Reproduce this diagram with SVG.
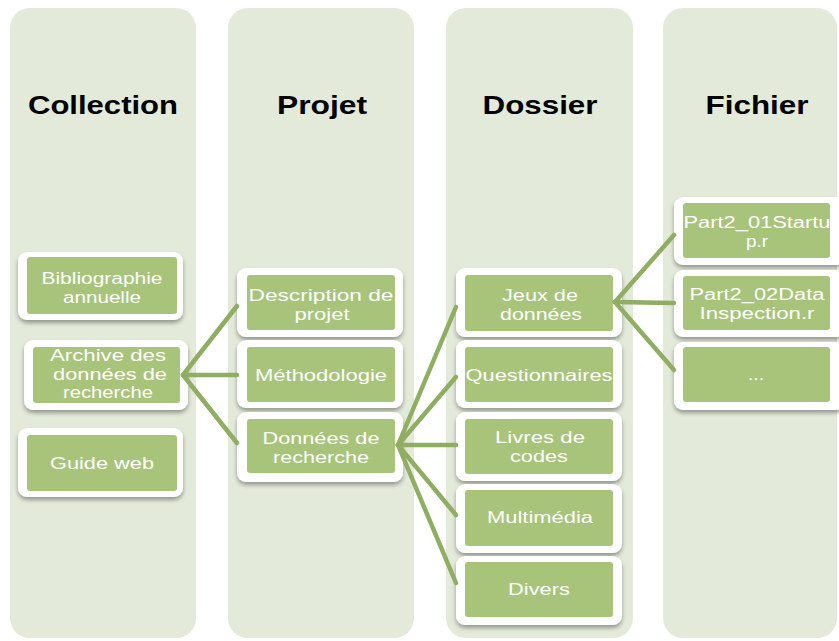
<svg xmlns="http://www.w3.org/2000/svg" width="839" height="641" viewBox="0 0 839 641">
<defs>
<filter id="sh" x="-10%" y="-10%" width="125%" height="135%">
<feGaussianBlur in="SourceAlpha" stdDeviation="2"/>
<feOffset dx="0" dy="3" result="b"/>
<feComponentTransfer><feFuncA type="linear" slope="0.35"/></feComponentTransfer>
<feMerge><feMergeNode/><feMergeNode in="SourceGraphic"/></feMerge>
</filter>
</defs>
<style>
.col{fill:#e3eada;}
.hd{font-family:"Liberation Sans",Arial,sans-serif;font-weight:bold;font-size:26px;fill:#000;text-anchor:middle;}
.outer{fill:#ffffff;filter:url(#sh);}
.inner{fill:#a8c47b;}
.t{font-family:"Liberation Sans",Arial,sans-serif;font-size:16px;fill:#ffffff;text-anchor:middle;}
.ln{stroke:#8fae63;stroke-width:4.5;fill:none;stroke-linecap:round;}
</style>
<rect width="839" height="641" fill="#ffffff"/>
<g id="columns">
<rect class="col" x="10" y="8" width="186" height="630" rx="20"/>
<rect class="col" x="228" y="8" width="186" height="630" rx="20"/>
<rect class="col" x="446" y="8" width="187" height="630" rx="20"/>
<rect class="col" x="663" y="8" width="174" height="630" rx="20"/>
<text class="hd" x="103" y="114" textLength="150" lengthAdjust="spacingAndGlyphs">Collection</text>
<text class="hd" x="322" y="114" textLength="90" lengthAdjust="spacingAndGlyphs">Projet</text>
<text class="hd" x="540" y="114" textLength="115" lengthAdjust="spacingAndGlyphs">Dossier</text>
<text class="hd" x="757" y="114" textLength="103" lengthAdjust="spacingAndGlyphs">Fichier</text>
</g>
<g id="n-biblio">
<rect class="outer" x="18" y="252" width="165" height="68" rx="9"/>
<rect class="inner" x="27" y="257" width="150" height="57" rx="3"/>
<text class="t" x="102" y="284" textLength="121" lengthAdjust="spacingAndGlyphs">Bibliographie</text>
<text class="t" x="102" y="302.5" textLength="78" lengthAdjust="spacingAndGlyphs">annuelle</text>
</g>
<g id="n-archive">
<rect class="outer" x="24" y="340" width="164" height="70" rx="9"/>
<rect class="inner" x="33" y="347" width="147" height="56" rx="3"/>
<text class="t" x="108" y="361" textLength="116" lengthAdjust="spacingAndGlyphs">Archive des</text>
<text class="t" x="110" y="379.5" textLength="114" lengthAdjust="spacingAndGlyphs">données de</text>
<text class="t" x="108" y="398" textLength="90" lengthAdjust="spacingAndGlyphs">recherche</text>
</g>
<g id="n-guide">
<rect class="outer" x="18" y="428" width="165" height="69" rx="9"/>
<rect class="inner" x="27" y="435" width="150" height="56" rx="3"/>
<text class="t" x="102" y="469" textLength="104" lengthAdjust="spacingAndGlyphs">Guide web</text>
</g>
<g id="n-description">
<rect class="outer" x="237" y="268" width="166" height="69" rx="9"/>
<rect class="inner" x="247" y="275" width="148" height="55" rx="3"/>
<text class="t" x="321" y="301" textLength="145" lengthAdjust="spacingAndGlyphs">Description de</text>
<text class="t" x="322" y="319.5" textLength="55" lengthAdjust="spacingAndGlyphs">projet</text>
</g>
<g id="n-methodologie">
<rect class="outer" x="237" y="340" width="166" height="68" rx="9"/>
<rect class="inner" x="247" y="347" width="148" height="55" rx="3"/>
<text class="t" x="321" y="381" textLength="132" lengthAdjust="spacingAndGlyphs">Méthodologie</text>
</g>
<g id="n-donnees">
<rect class="outer" x="237" y="412" width="166" height="70" rx="9"/>
<rect class="inner" x="247" y="419" width="148" height="54" rx="3"/>
<text class="t" x="321" y="444" textLength="117" lengthAdjust="spacingAndGlyphs">Données de</text>
<text class="t" x="321" y="462.5" textLength="96" lengthAdjust="spacingAndGlyphs">recherche</text>
</g>
<g id="n-jeux">
<rect class="outer" x="456" y="268" width="166" height="69" rx="9"/>
<rect class="inner" x="465" y="275" width="148" height="56" rx="3"/>
<text class="t" x="540" y="301" textLength="76" lengthAdjust="spacingAndGlyphs">Jeux de</text>
<text class="t" x="541" y="319.5" textLength="82" lengthAdjust="spacingAndGlyphs">données</text>
</g>
<g id="n-questionnaires">
<rect class="outer" x="456" y="340" width="166" height="68" rx="9"/>
<rect class="inner" x="465" y="347" width="148" height="55" rx="3"/>
<text class="t" x="539" y="381" textLength="147" lengthAdjust="spacingAndGlyphs">Questionnaires</text>
</g>
<g id="n-livres">
<rect class="outer" x="456" y="412" width="166" height="69" rx="9"/>
<rect class="inner" x="465" y="419" width="148" height="55" rx="3"/>
<text class="t" x="540" y="443" textLength="90" lengthAdjust="spacingAndGlyphs">Livres de</text>
<text class="t" x="539" y="461.5" textLength="58" lengthAdjust="spacingAndGlyphs">codes</text>
</g>
<g id="n-multimedia">
<rect class="outer" x="456" y="484" width="166" height="69" rx="9"/>
<rect class="inner" x="465" y="490" width="148" height="56" rx="3"/>
<text class="t" x="540" y="523" textLength="106" lengthAdjust="spacingAndGlyphs">Multimédia</text>
</g>
<g id="n-divers">
<rect class="outer" x="456" y="556" width="166" height="69" rx="9"/>
<rect class="inner" x="465" y="562" width="148" height="55" rx="3"/>
<text class="t" x="539" y="595" textLength="62" lengthAdjust="spacingAndGlyphs">Divers</text>
</g>
<g id="n-part201">
<rect class="outer" x="674" y="197" width="172" height="68" rx="9"/>
<rect class="inner" x="683" y="203" width="147" height="55" rx="3"/>
<text class="t" x="757" y="228" textLength="147" lengthAdjust="spacingAndGlyphs">Part2_01Startu</text>
<text class="t" x="757" y="246.5" textLength="22" lengthAdjust="spacingAndGlyphs">p.r</text>
</g>
<g id="n-part202">
<rect class="outer" x="674" y="270" width="172" height="67" rx="9"/>
<rect class="inner" x="683" y="276" width="147" height="54" rx="3"/>
<text class="t" x="757" y="300" textLength="135" lengthAdjust="spacingAndGlyphs">Part2_02Data</text>
<text class="t" x="757" y="318.5" textLength="115" lengthAdjust="spacingAndGlyphs">Inspection.r</text>
</g>
<g id="n-etc">
<rect class="outer" x="674" y="342" width="172" height="68" rx="9"/>
<rect class="inner" x="683" y="347" width="147" height="55" rx="3"/>
<text class="t" x="756" y="380" textLength="16" lengthAdjust="spacingAndGlyphs">...</text>
</g>
<g id="connectors">
<line class="ln" x1="183" y1="375" x2="237" y2="306"/>
<line class="ln" x1="183" y1="375" x2="237" y2="375"/>
<line class="ln" x1="183" y1="375" x2="237" y2="443"/>
<line class="ln" x1="398" y1="445" x2="456" y2="307"/>
<line class="ln" x1="398" y1="445" x2="456" y2="377"/>
<line class="ln" x1="398" y1="445" x2="456" y2="445"/>
<line class="ln" x1="398" y1="445" x2="456" y2="515"/>
<line class="ln" x1="398" y1="445" x2="456" y2="583"/>
<line class="ln" x1="615" y1="302" x2="674" y2="235"/>
<line class="ln" x1="615" y1="302" x2="674" y2="303"/>
<line class="ln" x1="615" y1="302" x2="674" y2="370"/>
</g>
</svg>
